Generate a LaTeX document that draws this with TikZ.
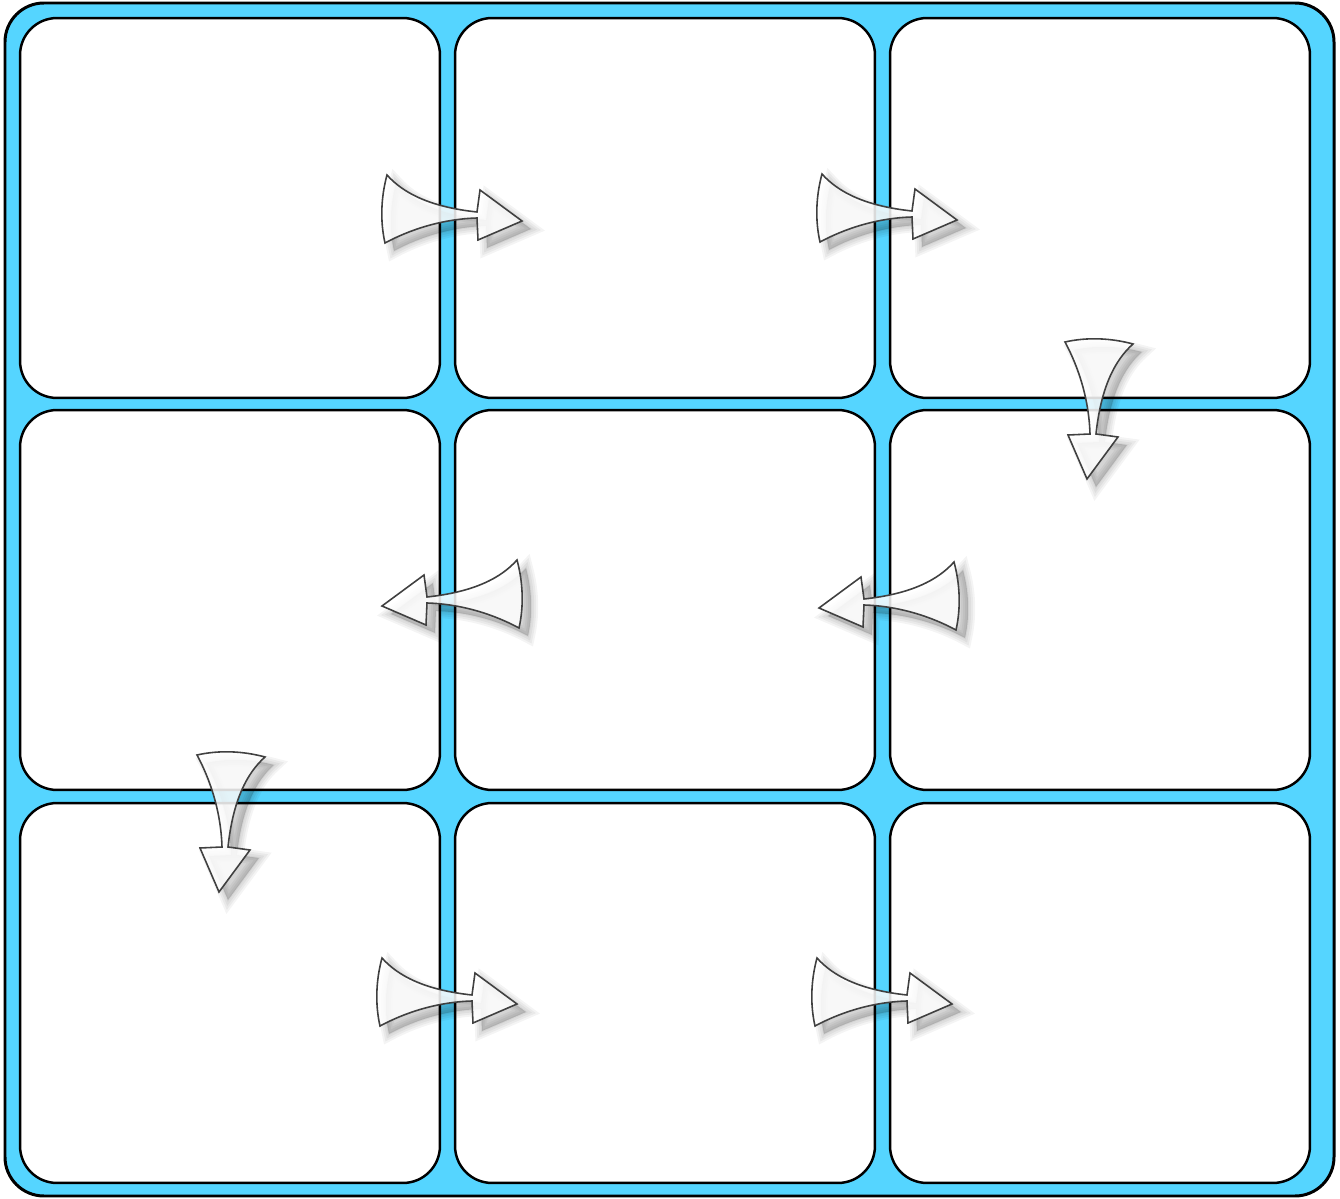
\documentclass[tikz,border=0pt]{standalone}
\usetikzlibrary{positioning}

\definecolor{paneblue}{HTML}{55D5FF}

\tikzset{
  frame/.style={draw=black, line width=1.7pt, fill=paneblue, rounded corners=0.78cm},
  cell/.style={draw=black, line width=1.4pt, fill=white, rounded corners=0.74cm,
    minimum width=8.4cm, minimum height=7.6cm, inner sep=0pt},
  arrowbody/.style={fill=white, fill opacity=0.85, draw=gray!50!black, line width=0.9pt},
  arrowshade/.style={fill=black, draw=black, opacity=0.045}
}

% Umriss eines Pfeils, Spitze nach rechts, Ursprung in der Mitte des Endes
\newcommand{\arrowshape}{(2,-34) .. controls (18,-16) and (45,-2) .. (92,3)
  -- (95,-19) -- (137,12) -- (93,31) -- (92,9)
  .. controls (58,10) and (26,20) .. (0,34)
  .. controls (-5,12) and (-4,-12) .. (2,-34) -- cycle}

\newcommand{\flowarrow}[3]{%
  \begin{scope}[shift={(#1+9,#2+8)}, #3]
    \foreach \w in {14,10,6,2}
      \filldraw[arrowshade, line width=\w*0.02cm] \arrowshape;
  \end{scope}
  \begin{scope}[shift={(#1,#2)}, #3]
    \filldraw[arrowbody] \arrowshape;
  \end{scope}}

\begin{document}
\begin{tikzpicture}[x=0.02cm, y=-0.02cm]
    \useasboundingbox (0,0) rectangle (1340,1199);

    % Rahmen
    \draw[frame] (5,3) rectangle (1334,1196);

    % Felder
    \foreach \cx [count=\i] in {230,665,1100}
        \foreach \cy [count=\j] in {208,600,993}
            \node[cell] (c\j\i) at (\cx,\cy) {};

    % Pfeile zwischen den Feldern
    \flowarrow{385}{209}{}
    \flowarrow{820}{208}{}
    \flowarrow{1099}{342}{rotate=-90}
    \flowarrow{956}{596}{xscale=-1}
    \flowarrow{519}{594}{xscale=-1}
    \flowarrow{231}{755}{rotate=-90}
    \flowarrow{380}{992}{}
    \flowarrow{815}{992}{}
\end{tikzpicture}
\end{document}
